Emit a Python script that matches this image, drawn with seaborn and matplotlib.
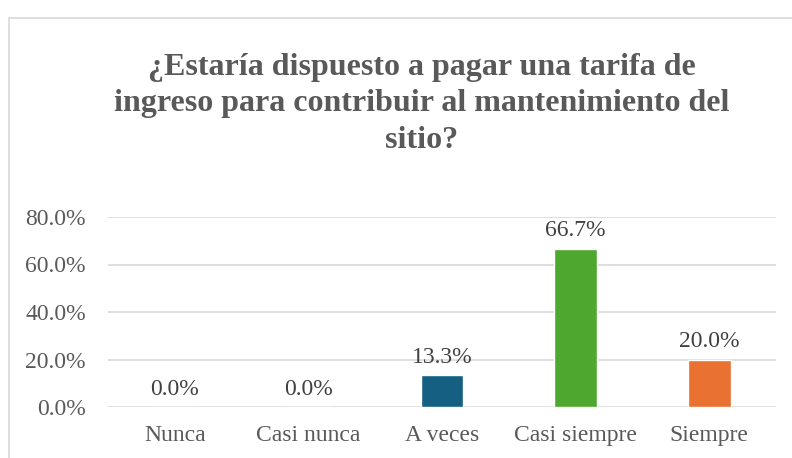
import matplotlib.pyplot as plt
import seaborn as sns
from matplotlib.patches import Rectangle
from matplotlib.ticker import PercentFormatter

# Chart data
categories = ["Nunca", "Casi nunca", "A veces", "Casi siempre", "Siempre"]
percentages = [0.0, 0.0, 13.3, 66.7, 20.0]
bar_colors = ["#156082", "#156082", "#156082", "#4ea72e", "#e97132"]
title = ("¿Estaría dispuesto a pagar una tarifa de\n"
         "ingreso para contribuir al mantenimiento del\n"
         "sitio?")

sns.set_theme(style="white")
plt.rcParams["font.family"] = ["Liberation Serif", "DejaVu Serif"]
text_color = "#595959"

fig = plt.figure(figsize=(7.92, 4.58), dpi=100)
ax = fig.add_axes([108 / 792, 1 - 407 / 458, 668 / 792, 190 / 458])

# Outer chart frame (extends past the image edge on right and bottom)
fig.patches.append(Rectangle((9 / 792, -0.1), 1.2, 1 - 18 / 458 + 0.1,
                             transform=fig.transFigure, fill=False,
                             edgecolor="#d9d9d9", linewidth=1.2))

sns.barplot(x=categories, y=percentages, hue=categories,
            palette=bar_colors, width=0.32, legend=False, ax=ax,
            saturation=1)

ax.set_ylim(0, 80)
ax.set_yticks([0, 20, 40, 60, 80])
ax.yaxis.set_major_formatter(PercentFormatter(decimals=1))
ax.grid(axis="y", color="#d9d9d9", linewidth=1.2)
ax.set_axisbelow(True)
for side in ["top", "right", "left", "bottom"]:
    ax.spines[side].set_visible(False)
ax.tick_params(axis="both", length=0, labelsize=17, colors=text_color)
ax.tick_params(axis="y", pad=16)
ax.tick_params(axis="x", pad=13)
ax.set_xlabel("")
ax.set_ylabel("")

for i, v in enumerate(percentages):
    ax.text(i, v + 3, "{0:.1f}%".format(v), ha="center", va="bottom",
            fontsize=17, color="#404040")

fig.text(422 / 792, 1 - 104 / 458, title, ha="center", va="center",
         fontsize=23, fontweight="bold", color=text_color,
         linespacing=1.36)

fig.savefig("out.png", dpi=100)
